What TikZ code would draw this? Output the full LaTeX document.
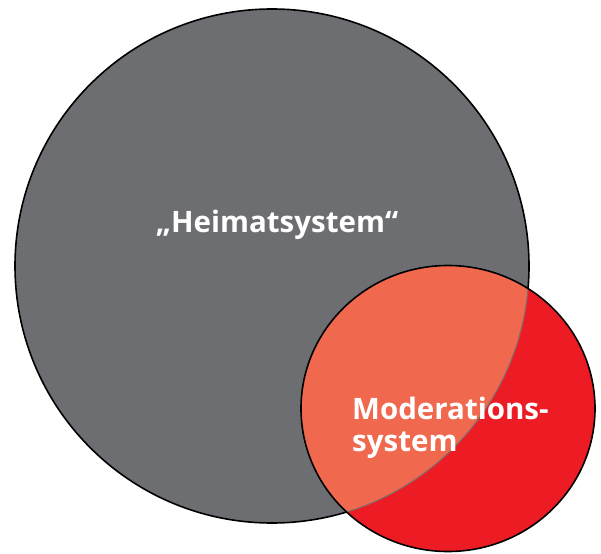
\documentclass[tikz,border=0pt]{standalone}
\usepackage{fontspec}
\setmainfont{Open Sans}
\usetikzlibrary{positioning}

\definecolor{homegray}{HTML}{6D6E71}
\definecolor{modred}{HTML}{ED1C24}
\definecolor{mixorange}{HTML}{F0684D}
\definecolor{seamgray}{HTML}{7B6E70}

\tikzset{
  ring/.style={draw=black, line width=1.6pt},
  label text/.style={text=white, inner sep=0pt, font=\fontsize{29.5}{32}\selectfont\bfseries}
}

\begin{document}
\begin{tikzpicture}[x=1pt, y=-1pt]
\useasboundingbox (0,0) rectangle (601,553);

% Home system: the big grey disc
\fill [homegray] (272,266) circle (257);
\draw [ring] (272,266) circle (257);

% Moderation system on top of it
\fill [modred] (448,408.5) ellipse (147 and 143);

% Shared part, lighter where both discs meet
\begin{scope}
  \clip (272,266) circle (257);
  \fill [mixorange] (448,408.5) ellipse (147 and 143);
\end{scope}
\begin{scope}
  \clip (448,408.5) ellipse (147 and 143);
  \draw [seamgray, line width=1pt] (272,266) circle (257);
\end{scope}
\draw [ring] (448,408.5) ellipse (147 and 143);

% Labels
\node [label text, anchor=base] (heimat) at (277,232) {„Heimatsystem“};
\node [label text, anchor=north west, align=left] (moderation) at (352,397) {Moderations-\\system};

\end{tikzpicture}
\end{document}
